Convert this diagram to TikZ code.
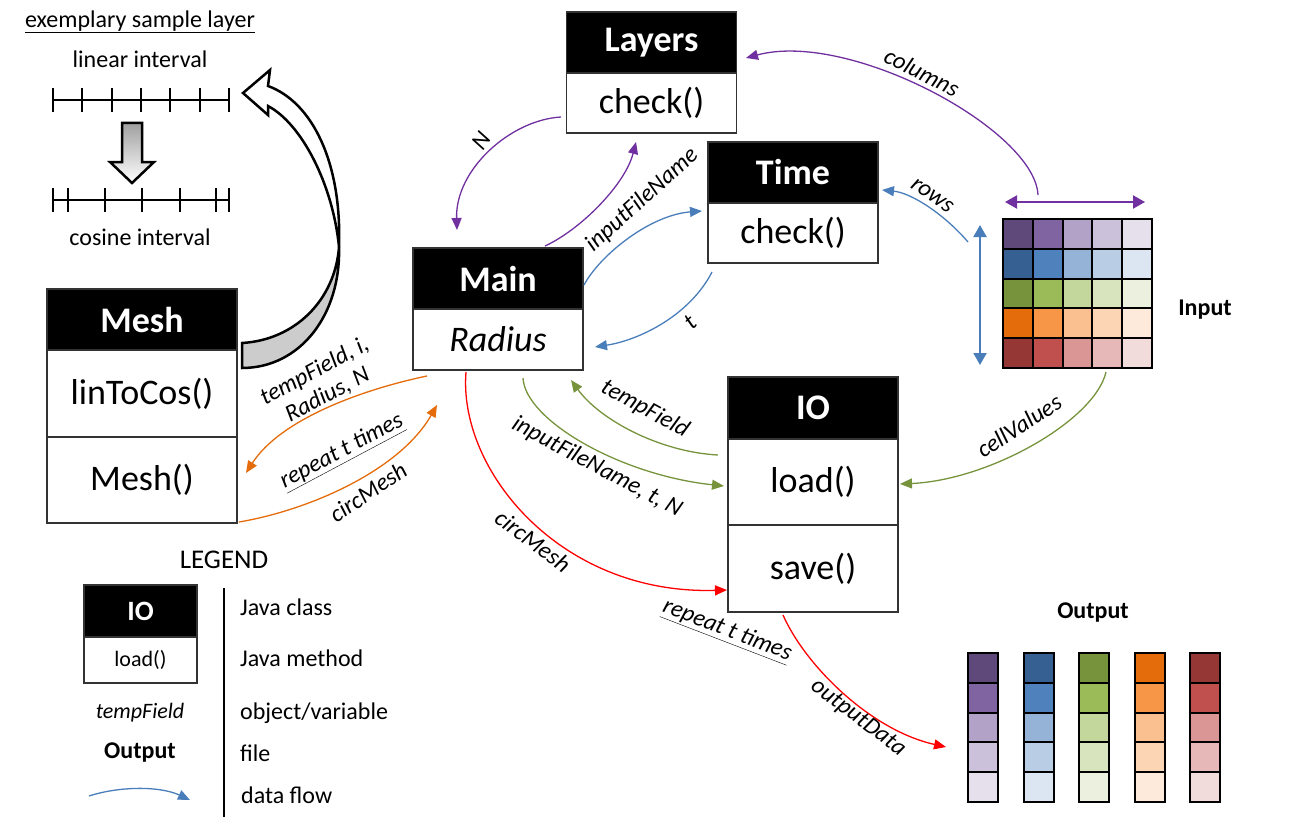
\documentclass[tikz,border=0pt]{standalone}
\usepackage{fontspec}
\setmainfont{Carlito}
\usetikzlibrary{arrows.meta}
\definecolor{cpurple}{HTML}{7030A0}
\definecolor{cblue}{HTML}{4A7EBB}
\definecolor{cgreen}{HTML}{77933C}
\definecolor{corange}{HTML}{E46C0A}
\definecolor{cred}{HTML}{FF0000}
\definecolor{c11}{HTML}{5F497A}\definecolor{c12}{HTML}{8064A2}\definecolor{c13}{HTML}{B3A2C7}\definecolor{c14}{HTML}{CCC1DA}\definecolor{c15}{HTML}{E5E0EC}
\definecolor{c21}{HTML}{366092}\definecolor{c22}{HTML}{4F81BD}\definecolor{c23}{HTML}{95B3D7}\definecolor{c24}{HTML}{B9CDE5}\definecolor{c25}{HTML}{DCE6F2}
\definecolor{c31}{HTML}{77933C}\definecolor{c32}{HTML}{9BBB59}\definecolor{c33}{HTML}{C3D69B}\definecolor{c34}{HTML}{D7E4BD}\definecolor{c35}{HTML}{EBF1DE}
\definecolor{c41}{HTML}{E46C0A}\definecolor{c42}{HTML}{F79646}\definecolor{c43}{HTML}{FAC090}\definecolor{c44}{HTML}{FCD5B5}\definecolor{c45}{HTML}{FDEADA}
\definecolor{c51}{HTML}{953735}\definecolor{c52}{HTML}{C0504D}\definecolor{c53}{HTML}{D99694}\definecolor{c54}{HTML}{E6B9B8}\definecolor{c55}{HTML}{F2DCDB}
\tikzset{
  hdr/.style={draw=black!80, line width=1.5pt, fill=black, text=white,
    font=\fontsize{36}{40}\selectfont\bfseries, minimum width=170pt, minimum height=61pt, inner sep=0pt},
  meth/.style={draw=black!80, line width=1.5pt, fill=white,
    font=\fontsize{36}{40}\selectfont, minimum width=170pt, inner sep=0pt},
  lbl/.style={font=\fontsize{24}{27}\selectfont\itshape, inner sep=0pt},
  plain/.style={font=\fontsize{24}{28}\selectfont, inner sep=0pt},
  boldtxt/.style={font=\fontsize{24}{28}\selectfont\bfseries, inner sep=0pt},
  flow/.style={line width=1.3pt, -{Triangle[length=12pt,width=10pt]}},
  dbl/.style={line width=2pt, {Triangle[length=12pt,width=13pt]}-{Triangle[length=12pt,width=13pt]}},
  cell/.style={draw=black, line width=2pt},
}
\begin{document}
\begin{tikzpicture}[x=1pt,y=-1pt]
\useasboundingbox (0,0) rectangle (1300,824);

% ---------- exemplary sample layer ----------
\node[plain] (ttl) at (140,22) {\underline{exemplary sample layer}};
\node[plain] (lin) at (140,59) {linear interval};
\draw[line width=2pt] (53,100) -- (229,100);
\foreach \x in {53,82.3,111.7,141,170.3,199.7,229} \draw[line width=2pt] (\x,88) -- (\x,112);
\draw[line width=2.5pt, line join=miter, top color=gray!75, bottom color=white]
  (122,123) -- (142,123) -- (142,162) -- (154,162) -- (132,183) -- (110,162) -- (122,162) -- cycle;
\draw[line width=2pt] (53,200) -- (229,200);
\foreach \x in {53,68,105,142,180,216,229} \draw[line width=2pt] (\x,188) -- (\x,212);
\node[plain] (cos) at (140,237) {cosine interval};

% big curved block arrow
\filldraw[fill=white, line width=2.5pt, line join=miter]
  (339,247) .. controls (342,162) and (312,102) .. (268,86) -- (270,70) -- (243,93)
  -- (268,115) -- (268,106) .. controls (302,124) and (333,185) .. (339,247) -- cycle;
\filldraw[fill=gray!40, line width=2.5pt, line join=miter]
  (242,343) .. controls (295,340) and (335,300) .. (339,247)
  .. controls (341,315) and (300,368) .. (242,368) -- cycle;

% ---------- class boxes ----------
\node[hdr] (layersH) at (651.5,42.5) {Layers};
\node[meth, minimum height=60pt] (layersM) at (651.5,103) {check()};
\node[hdr] (timeH) at (793,172.5) {Time};
\node[meth, minimum height=60pt] (timeM) at (793,233) {check()};
\node[hdr] (mainH) at (498,278.5) {Main};
\node[meth, minimum height=61pt, font=\fontsize{36}{40}\selectfont\itshape] (mainM) at (498,339.5) {Radius};
\node[hdr, minimum height=62pt] (ioH) at (813,408) {IO};
\node[meth, minimum height=86pt] (ioL) at (813,482) {load()};
\node[meth, minimum height=87pt] (ioS) at (813,568.5) {save()};
\node[hdr, minimum width=190pt] (meshH) at (142,319.5) {Mesh};
\node[meth, minimum width=190pt, minimum height=87pt] (meshL) at (142,393.5) {linToCos()};
\node[meth, minimum width=190pt, minimum height=86pt] (meshM) at (142,480) {Mesh()};

% ---------- input matrix ----------
\foreach \r in {1,...,5} \foreach \c in {1,...,5}
  \filldraw[cell, fill=c\r\c] ({1003+(\c-1)*29.8},{219+(\r-1)*29.8}) rectangle +(29.8,29.8);
\node[boldtxt] (input) at (1205,310) {Input};
\coordinate (hL) at (1005,202); \coordinate (hR) at (1145,202);
\draw[dbl, cpurple] (hL) -- (hR);
\coordinate (vT) at (980,225); \coordinate (vB) at (980,365);
\draw[dbl, cblue] (vT) -- (vB);

% ---------- output columns ----------
\node[boldtxt] (output) at (1093,613) {Output};
\foreach \c in {1,...,5} \foreach \r in {1,...,5}
  \filldraw[cell, fill=c\c\r] ({968+(\c-1)*55.5},{653+(\r-1)*29.8}) rectangle +(30,29.8);

% ---------- connectors ----------
\coordinate (nS) at (561,117); \coordinate (nE) at (457,230);
\draw[flow, cpurple] (nS) .. controls (510,120) and (455,170) .. (nE);
\node[lbl, rotate=55] (lN) at (481,141) {N};

\coordinate (mlS) at (545,246); \coordinate (mlE) at (636,142);
\draw[flow, cpurple] (mlS) .. controls (580,230) and (625,185) .. (mlE);

\coordinate (ifS) at (584,285); \coordinate (ifE) at (702,211);
\draw[flow, cblue] (ifS) .. controls (600,255) and (650,215) .. (ifE);
\node[lbl, rotate=42] (lIF) at (642,200) {inputFileName};

\coordinate (tS) at (712,272); \coordinate (tE) at (595,347);
\draw[flow, cblue] (tS) .. controls (690,315) and (640,340) .. (tE);
\node[lbl, rotate=42] (lt) at (690,322) {t};

\coordinate (rS) at (968,242); \coordinate (rE) at (882,190);
\draw[flow, cblue] (rS) .. controls (945,215) and (912,193) .. (rE);
\node[lbl, rotate=-35] (lrows) at (932,196) {rows};

\coordinate (cS) at (1038,195); \coordinate (cE) at (746,58);
\draw[flow, cpurple] (cS) .. controls (1035,130) and (850,30) .. (cE);
\node[lbl, rotate=-27] (lcol) at (922,72) {columns};

\coordinate (otS) at (427,376); \coordinate (otE) at (246,473);
\draw[flow, corange] (otS) .. controls (360,390) and (280,420) .. (otE);
\node[lbl, rotate=28, align=center] (ltf) at (321,383) {tempField, i,\\Radius, N};

\coordinate (ocS) at (239,522); \coordinate (ocE) at (437,405);
\draw[flow, corange] (ocS) .. controls (310,510) and (400,470) .. (ocE);
\node[lbl, rotate=28] (lrep1) at (342,452) {\underline{repeat t times}};
\node[lbl, rotate=34] (lcm1) at (368,492) {circMesh};

\coordinate (rcS) at (466,372); \coordinate (rcE) at (727,590);
\draw[flow, cred] (rcS) .. controls (458,470) and (560,595) .. (rcE);
\node[lbl, rotate=-37] (lcm2) at (533,541) {circMesh};

\coordinate (gtS) at (718,455); \coordinate (gtE) at (571,380);
\draw[flow, cgreen] (gtS) .. controls (660,452) and (600,420) .. (gtE);
\node[lbl, rotate=-29] (ltf2) at (645,409) {tempField};

\coordinate (giS) at (523,378); \coordinate (giE) at (724,486);
\draw[flow, cgreen] (giS) .. controls (525,420) and (620,475) .. (giE);
\node[lbl, rotate=-28] (lift) at (597,467) {inputFileName, t, N};

\coordinate (cvS) at (1106,372); \coordinate (cvE) at (900,484);
\draw[flow, cgreen] (cvS) .. controls (1095,420) and (990,480) .. (cvE);
\node[lbl, rotate=33] (lcv) at (1019,426) {cellValues};

\coordinate (odS) at (783,615); \coordinate (odE) at (946,747);
\draw[flow, cred] (odS) .. controls (805,665) and (870,730) .. (odE);
\node[lbl, rotate=-37] (lod) at (858,718) {outputData};
\node[lbl, rotate=-21] (lrep2) at (727,631) {\underline{repeat t times}};

% ---------- legend ----------
\node[font=\fontsize{27}{30}\selectfont, inner sep=0pt] (legend) at (224,560) {LEGEND};
\node[hdr, minimum width=113pt, minimum height=52pt, font=\fontsize{28}{32}\selectfont\bfseries] (lgH) at (140.5,611) {IO};
\node[meth, minimum width=113pt, minimum height=46pt, font=\fontsize{22}{26}\selectfont] (lgM) at (140.5,660) {load()};
\coordinate (lgT) at (224,588); \coordinate (lgB) at (224,817);
\draw[line width=1.5pt] (lgT) -- (lgB);
\node[lbl, font=\fontsize{22}{26}\selectfont\itshape] (lgV) at (140,713) {tempField};
\node[boldtxt] (lgF) at (140,753) {Output};
\coordinate (laS) at (89,796); \coordinate (laE) at (190,800);
\draw[flow, cblue] (laS) .. controls (120,786) and (160,786) .. (laE);
\node[plain, anchor=west] (t1) at (240,607) {Java class};
\node[plain, anchor=west] (t2) at (240,658) {Java method};
\node[plain, anchor=west] (t3) at (240,713) {object/variable};
\node[plain, anchor=west] (t4) at (240,753) {file};
\node[plain, anchor=west] (t5) at (241,795) {data flow};
\end{tikzpicture}
\end{document}
